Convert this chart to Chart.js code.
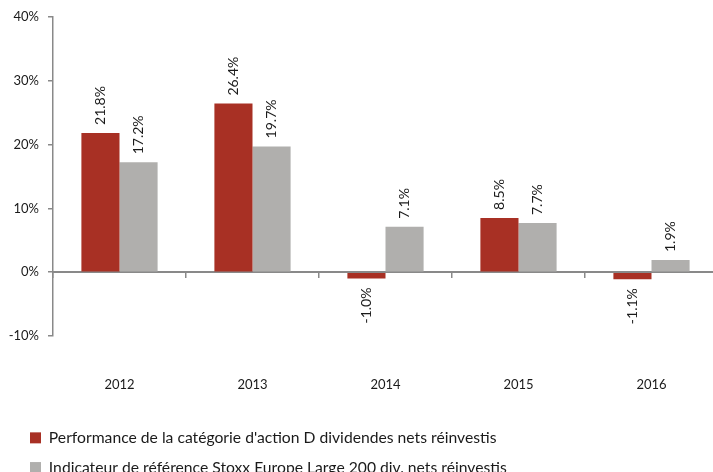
<!DOCTYPE html>
<html>
<head>
<meta charset="utf-8">
<script src="https://cdn.jsdelivr.net/npm/chart.js@4/dist/chart.umd.min.js"></script>
<style>
html,body{margin:0;padding:0;background:#fff;overflow:hidden;width:713px;height:472px;}
canvas{display:block;}
</style>
</head>
<body>
<canvas id="c" width="718" height="472"></canvas>
<script>
const categories = ['2012', '2013', '2014', '2015', '2016'];
const seriesNames = [
  "Performance de la catégorie d'action D dividendes nets réinvestis",
  "Indicateur de référence Stoxx Europe Large 200 div. nets réinvestis"
];
const shareClassD = [21.8, 26.4, -1.0, 8.5, -1.1];
const benchmark = [17.2, 19.7, 7.1, 7.7, 1.9];
const yTicks = [-10, 0, 10, 20, 30, 40];

const FONT = 'Lato, "Open Sans", sans-serif';
const AXIS = '#898989';

const barLabels = {
  id: 'barLabels',
  afterDatasetsDraw(chart) {
    const ctx = chart.ctx;
    ctx.save();
    ctx.font = '14px ' + FONT;
    ctx.fillStyle = '#1a1a1a';
    ctx.textBaseline = 'middle';
    chart.data.datasets.forEach((ds, di) => {
      const meta = chart.getDatasetMeta(di);
      meta.data.forEach((el, i) => {
        const v = ds.data[i];
        const txt = v.toFixed(1) + '%';
        ctx.save();
        if (v >= 0) {
          ctx.translate(el.x, el.y - 8);
          ctx.rotate(-Math.PI / 2);
          ctx.textAlign = 'left';
        } else {
          ctx.translate(el.x, el.y + 9);
          ctx.rotate(-Math.PI / 2);
          ctx.textAlign = 'right';
        }
        ctx.fillText(txt, 0, 0);
        ctx.restore();
      });
    });
    ctx.restore();
  }
};

// fixed legend box size and placement
const legendPlace = {
  id: 'legendPlace',
  beforeLayout(chart) {
    const lg = chart.legend;
    if (lg && !lg._fixedFit) {
      const f = lg.fit.bind(lg);
      lg.fit = function () { f(); this.height = 70; };
      lg._fixedFit = true;
    }
  },
  afterLayout(chart) {
    const lg = chart.legend;
    if (!lg) return;
    const w = lg.right - lg.left;
    lg.left = 16; lg.right = 16 + w;
    lg.top = 416; lg.bottom = 496;
  }
};

new Chart(document.getElementById('c'), {
  type: 'bar',
  data: {
    labels: categories,
    datasets: [
      { label: seriesNames[0], data: shareClassD, backgroundColor: '#A83024', borderWidth: 0 },
      { label: seriesNames[1], data: benchmark, backgroundColor: '#B0AFAD', borderWidth: 0 }
    ]
  },
  plugins: [barLabels, legendPlace],
  options: {
    responsive: false,
    animation: false,
    devicePixelRatio: 1,
    barPercentage: 1,
    categoryPercentage: 0.573,
    layout: { padding: { top: 16, right: 0, bottom: 0, left: 0 } },
    plugins: {
      tooltip: { enabled: false },
      legend: {
        position: 'bottom',
        align: 'start',
        labels: {
          boxWidth: 11,
          boxHeight: 11,
          padding: 14,
          color: '#1a1a1a',
          font: { family: FONT, size: 15.7 }
        }
      }
    },
    scales: {
      x: {
        afterFit(scale) { scale.height = 66; },
        grid: { display: false },
        border: { display: false },
        ticks: { color: '#1a1a1a', padding: 33, font: { family: FONT, size: 13 } }
      },
      x2: {
        type: 'category',
        position: { y: 0 },
        offset: true,
        afterFit(scale) { scale.height = 0; },
        grid: { offset: true, drawOnChartArea: false, drawTicks: true, tickLength: 5, color: AXIS, lineWidth: 1.5 },
        border: { display: true, color: AXIS, width: 2 },
        ticks: { display: false }
      },
      y: {
        min: -10,
        max: 40,
        afterBuildTicks(scale) { scale.ticks = yTicks.map(v => ({ value: v })); },
        afterFit(scale) { scale.width = 53; },
        grid: { drawOnChartArea: false, drawTicks: true, tickLength: 5, color: AXIS, lineWidth: 1.5 },
        border: { display: true, color: AXIS, width: 1.5 },
        ticks: {
          color: '#1a1a1a',
          padding: 9,
          font: { family: FONT, size: 13 },
          callback: v => v + '%'
        }
      }
    }
  }
});
</script>
</body>
</html>
